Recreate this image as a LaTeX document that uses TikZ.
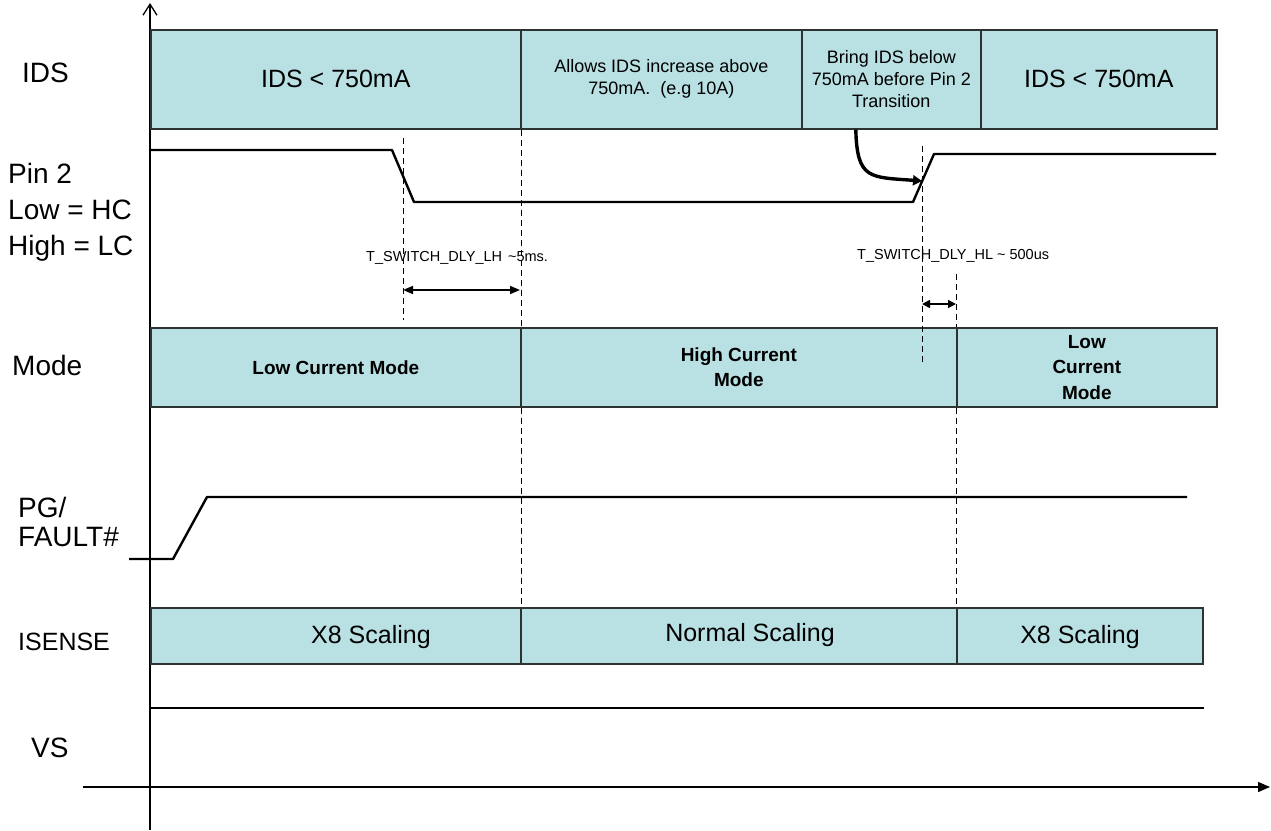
\documentclass[tikz,border=0pt]{standalone}
\usepackage{fontspec}
\setmainfont{Liberation Sans}
\usetikzlibrary{arrows.meta}
\definecolor{boxfill}{RGB}{185,224,227}
\definecolor{boxline}{RGB}{45,50,50}
\begin{document}
\begin{tikzpicture}[x=1pt,y=-1pt,
  box/.style={draw=boxline, line width=1.6pt, fill=boxfill, anchor=north west, inner sep=0pt, align=center},
  wave/.style={line width=2.4pt, line join=round},
  guide/.style={dash pattern=on 6pt off 4pt, line width=0.9pt},
  lbl/.style={anchor=west, inner sep=0pt, align=left, font=\fontsize{28}{36}\selectfont},
  big/.style={font=\fontsize{25}{30}\selectfont},
  mid/.style={font=\fontsize{18}{22}\selectfont},
  modef/.style={font=\bfseries\fontsize{19}{25.5}\selectfont},
  scal/.style={font=\fontsize{25}{30}\selectfont, inner sep=0pt},
  dimlbl/.style={anchor=west, inner sep=0pt, font=\fontsize{14.5}{17}\selectfont},
  dimarrow/.style={line width=1.6pt, {Triangle[length=10pt,width=8pt]}-{Triangle[length=10pt,width=8pt]}}
]
\useasboundingbox (0,0) rectangle (1271,830);

% axes
\coordinate (yb) at (150,830);
\coordinate (yt) at (150,3);
\coordinate (xl) at (83,787);
\coordinate (xr) at (1270,787);
\draw[line width=1.3pt, -{Straight Barb[length=11pt,width=14pt]}] (yb) -- (yt);
\draw[line width=1.3pt, -{Triangle[length=12pt,width=10pt]}] (xl) -- (xr);

% IDS row
\node[box, minimum width=370pt, minimum height=99pt, big] (ids1) at (150,29) {IDS < 750mA};
\node[box, minimum width=281pt, minimum height=99pt, mid] (ids2) at (520,29) {Allows IDS increase above\\750mA.\ \ (e.g 10A)};
\node[box, minimum width=179pt, minimum height=99pt, mid] (ids3) at (801,29) {Bring IDS below\\750mA before Pin 2\\Transition};
\node[box, minimum width=236pt, minimum height=99pt, big] (ids4) at (980,29) {IDS < 750mA};

% Mode row
\node[box, minimum width=370pt, minimum height=79pt, modef] (m1) at (150,327) {Low Current Mode};
\node[box, minimum width=436pt, minimum height=79pt, modef] (m2) at (520,327) {High Current\\Mode};
\node[box, minimum width=260pt, minimum height=79pt, modef] (m3) at (956,327) {Low\\Current\\Mode};

% ISENSE row
\node[box, minimum width=370pt, minimum height=56pt] (s1) at (150,607) {};
\node[box, minimum width=436pt, minimum height=56pt] (s2) at (520,607) {};
\node[box, minimum width=246pt, minimum height=56pt] (s3) at (956,607) {};
\node[scal] (s1t) at (371,637) {X8 Scaling};
\node[scal] (s2t) at (750,635) {Normal Scaling};
\node[scal] (s3t) at (1080,637) {X8 Scaling};

% dashed guides
\coordinate (g1a) at (403,138); \coordinate (g1b) at (403,320);
\coordinate (g3a) at (922,146); \coordinate (g3b) at (922,363);
\coordinate (g4a) at (956,274);
\draw[guide] (g1a) -- (g1b);
\draw[guide] (ids1.south east) -- (m1.north east);
\draw[guide] (m1.south east) -- (s1.north east);
\draw[guide] (g3a) -- (g3b);
\draw[guide] (g4a) -- (m3.north west);
\draw[guide] (m3.south west) -- (s3.north west);

% Pin 2 waveform
\coordinate (p0) at (150,150);
\coordinate (p1) at (392,150);
\coordinate (p2) at (414,202);
\coordinate (p3) at (913,202);
\coordinate (p4) at (934,154);
\coordinate (p5) at (1216,154);
\draw[wave] (p0) -- (p1) -- (p2) -- (p3) -- (p4) -- (p5);

% PG/FAULT# waveform
\coordinate (q0) at (129,559);
\coordinate (q1) at (173,559);
\coordinate (q2) at (207,497);
\coordinate (q3) at (1187,497);
\draw[wave] (q0) -- (q1) -- (q2) -- (q3);

% VS line
\coordinate (v0) at (150,708);
\coordinate (v1) at (1204,708);
\draw[wave] (v0) -- (v1);

% delay dimensions
\coordinate (d1a) at (403,290); \coordinate (d1b) at (520,290);
\coordinate (d2a) at (922,304); \coordinate (d2b) at (956,304);
\draw[dimarrow] (d1a) -- (d1b);
\draw[line width=1.6pt, {Triangle[length=8pt,width=8pt]}-{Triangle[length=8pt,width=8pt]}] (d2a) -- (d2b);
\node[dimlbl] (lh) at (366,258) {T\_SWITCH\_DLY\_LH\hspace{6pt}\textasciitilde5ms.};
\node[dimlbl] (hl) at (857,256) {T\_SWITCH\_DLY\_HL \textasciitilde{} 500us};

% curved arrow
\coordinate (pinhl) at (922,181);
\draw[line width=3.4pt, -{Triangle[length=9pt,width=10pt]}] ([xshift=-35.5pt]ids3.south) .. controls (857,180) and (870,177) .. (pinhl);

% left labels
\node[lbl] (lids) at (22,73) {IDS};
\node[lbl] (lpin) at (8,212) {Pin 2\\Low = HC\\High = LC};
\node[lbl] (lmode) at (12,365) {Mode};
\node[lbl, font=\fontsize{28}{29}\selectfont] (lpg) at (18,522) {PG/\\FAULT\#};
\node[lbl, font=\fontsize{25}{30}\selectfont] (lis) at (18,642) {ISENSE};
\node[lbl] (lvs) at (31,748) {VS};
\end{tikzpicture}
\end{document}
